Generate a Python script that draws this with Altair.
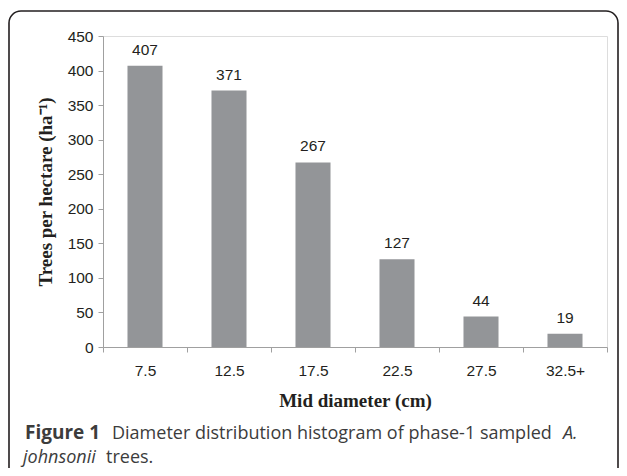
import altair as alt
import pandas as pd

categories = ["7.5", "12.5", "17.5", "22.5", "27.5", "32.5+"]
trees = [407, 371, 267, 127, 44, 19]
y_ticks = [0, 50, 100, 150, 200, 250, 300, 350, 400, 450]

df = pd.DataFrame({"mid": categories, "trees": trees})

TXT = "#231f20"
AXC = "#a0a0a0"

x_enc = alt.X(
    "mid:N", sort=None,
    scale=alt.Scale(paddingInner=0, paddingOuter=0),
    axis=alt.Axis(
        title="Mid diameter (cm)", labelAngle=0, tickBand="extent",
        domainColor=AXC, tickColor=AXC, tickSize=5,
        labelFont="Liberation Sans", labelFontSize=15.5, labelColor=TXT, labelPadding=11,
        titleFont="Liberation Serif", titleFontSize=19, titleFontWeight="bold",
        titleColor=TXT, titlePadding=13,
    ),
)
y_enc = alt.Y(
    "trees:Q",
    scale=alt.Scale(domain=[0, 450], nice=False),
    axis=alt.Axis(
        title="Trees per hectare (ha\u207b\u00b9)", values=y_ticks, grid=False,
        labelOverlap=False, tickCount=10,
        domainColor=AXC, tickColor=AXC, tickSize=5,
        labelFont="Liberation Sans", labelFontSize=15.5, labelColor=TXT, labelPadding=5,
        titleFont="Liberation Serif", titleFontSize=19, titleFontWeight="bold",
        titleColor=TXT, titlePadding=12,
    ),
)

base = alt.Chart(df).encode(x=x_enc, y=y_enc)
bars = base.mark_bar(color="#939598", width=alt.RelativeBandSize(0.417))
labels = base.mark_text(
    font="Liberation Sans", fontSize=15.5, color=TXT, baseline="alphabetic", dy=-11
).encode(text="trees:Q")

border = alt.Chart(pd.DataFrame({"a": [0]})).mark_rect(
    fill=None, fillOpacity=0, stroke="#231f20", strokeWidth=1.6, cornerRadius=12
).encode(x=alt.value(-94), x2=alt.value(515), y=alt.value(-25), y2=alt.value(470))

cap_font = "Open Sans"
cap_color = "#3c3c3c"
caption = pd.DataFrame({"a": [0]})

def cap(text, x, y, weight="normal", style="normal", size=18):
    return alt.Chart(caption).mark_text(
        text=text, font=cap_font, fontSize=size, color=cap_color, align="left",
        baseline="alphabetic", fontWeight=weight, fontStyle=style,
    ).encode(x=alt.value(x), y=alt.value(y))

caps = [
    cap("Figure 1", -78, 403, weight="bold", size=19),
    cap("Diameter distribution histogram of phase-1 sampled", 9, 403),
    cap("A.", 460, 403, style="italic"),
    cap("johnsonii", -80, 427, style="italic"),
    cap("trees.", 3, 427),
]

chart = alt.layer(bars, labels, border, *caps).properties(
    width=504, height=311,
    autosize=alt.AutoSizeParams(type="none"),
    padding={"left": 95, "top": 28, "right": 12, "bottom": 121},
).configure_view(stroke=None).configure(background="white")

chart.save("out.html", embed_options={"renderer": "svg", "actions": False})
